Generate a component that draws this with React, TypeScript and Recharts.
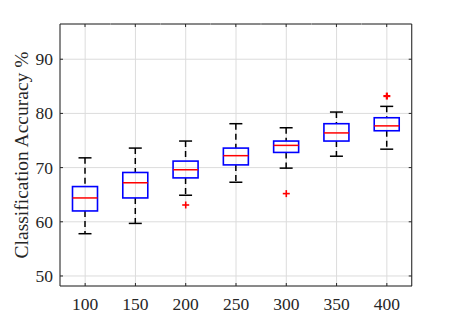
import React from 'react';
import { ComposedChart, Bar, Line, XAxis, YAxis, CartesianGrid } from 'recharts';

const categories = ['100', '150', '200', '250', '300', '350', '400'];
const lowerWhisker = [57.8, 59.7, 64.9, 67.3, 69.9, 72.1, 73.4];
const q1 = [62.0, 64.4, 68.1, 70.5, 72.8, 74.9, 76.8];
const median = [64.4, 67.2, 69.6, 72.2, 74.1, 76.4, 77.7];
const q3 = [66.5, 69.1, 71.2, 73.6, 74.9, 78.1, 79.2];
const upperWhisker = [71.8, 73.6, 74.9, 78.1, 77.35, 80.25, 81.3];
const outliers: (number | null)[] = [null, null, 63.1, null, 65.2, null, 83.2];
const yTicks = [50, 60, 70, 80, 90];
const yDomain = [48.15, 96.5];

const data = categories.map((c, i) => ({
  n: c,
  range: [lowerWhisker[i], upperWhisker[i]],
  lo: lowerWhisker[i],
  q1: q1[i],
  med: median[i],
  q3: q3[i],
  hi: upperWhisker[i],
  outlier: outliers[i],
}));

const FONT = '"Liberation Serif", "Times New Roman", serif';
const TXT = '#262626';

// Band background: draws the top frame segment + top tick for each category,
// and the right frame + right ticks for the last category.
const BandFrame = (props: any) => {
  const { x, y, width, height, index } = props;
  if (x == null || y == null || width == null || height == null) return <g />;
  const cx = x + width / 2;
  const right = x + width;
  const yOf = (v: number) => y + ((yDomain[1] - v) / (yDomain[1] - yDomain[0])) * height;
  const isLast = index === categories.length - 1;
  return (
    <g>
      <line x1={x} x2={right} y1={y} y2={y} stroke={TXT} strokeWidth={1} />
      <line x1={cx} x2={cx} y1={y} y2={y + 3} stroke={TXT} strokeWidth={1} />
      {isLast && <line x1={right} x2={right} y1={y} y2={y + height} stroke={TXT} strokeWidth={1} />}
      {isLast &&
        yTicks.map((t) => (
          <line key={`rt${t}`} x1={right - 3} x2={right} y1={yOf(t)} y2={yOf(t)} stroke={TXT} strokeWidth={1} />
        ))}
    </g>
  );
};

const BoxShape = (props: any) => {
  const { x, y, width, height, payload } = props;
  if (!payload) return <g />;
  const { lo, q1: a, med, q3: b, hi } = payload;
  const toY = (v: number) => y + ((hi - v) / (hi - lo)) * height;
  const cx = x + width / 2;
  const boxW = width * 0.5;
  const capW = width * 0.26;
  return (
    <g>
      <line x1={cx} x2={cx} y1={toY(hi)} y2={toY(b)} stroke="#000" strokeWidth={1.5} strokeDasharray="6 4" />
      <line x1={cx} x2={cx} y1={toY(a)} y2={toY(lo)} stroke="#000" strokeWidth={1.5} strokeDasharray="6 4" />
      <line x1={cx - capW / 2} x2={cx + capW / 2} y1={toY(hi)} y2={toY(hi)} stroke="#000" strokeWidth={1.5} />
      <line x1={cx - capW / 2} x2={cx + capW / 2} y1={toY(lo)} y2={toY(lo)} stroke="#000" strokeWidth={1.5} />
      <rect x={cx - boxW / 2} y={toY(b)} width={boxW} height={toY(a) - toY(b)} fill="none" stroke="#0000ff" strokeWidth={1.6} />
      <line x1={cx - boxW / 2} x2={cx + boxW / 2} y1={toY(med)} y2={toY(med)} stroke="#ff0000" strokeWidth={1.5} />
    </g>
  );
};

const PlusDot = (props: any) => {
  const { cx, cy, value, index } = props;
  if (value == null || cx == null || cy == null) return <g key={`o${index}`} />;
  const s = 3.5;
  const w = index === categories.length - 1 ? 2.2 : 1.6;
  return (
    <g key={`o${index}`}>
      <line x1={cx - s} x2={cx + s} y1={cy} y2={cy} stroke="#ff0000" strokeWidth={w} />
      <line x1={cx} x2={cx} y1={cy - s} y2={cy + s} stroke="#ff0000" strokeWidth={w} />
    </g>
  );
};

const XTick = (props: any) => {
  const { x, payload } = props;
  return (
    <text x={x} y={310} textAnchor="middle" fontFamily={FONT} fontSize={17.5} fill={TXT}>
      {payload.value}
    </text>
  );
};

const YTick = (props: any) => {
  const { y, payload } = props;
  return (
    <text x={53} y={y} textAnchor="end" dominantBaseline="central" fontFamily={FONT} fontSize={17.5} fill={TXT}>
      {payload.value}
    </text>
  );
};

const YLabel = (props: any) => {
  const vb = props.viewBox || { x: 0, y: 0, width: 60, height: 262 };
  const cx = vb.x + 21;
  const cy = vb.y + vb.height / 2;
  return (
    <text x={cx} y={cy} transform={`rotate(-90 ${cx} ${cy})`} textAnchor="middle" dominantBaseline="central"
      fontFamily={FONT} fontSize={19.5} fill={TXT}>
      Classification Accuracy %
    </text>
  );
};

export default function App() {
  return (
    <div style={{ position: 'absolute', left: 0, top: 0, background: '#fff' }}>
      <ComposedChart width={456} height={322} data={data} margin={{ top: 24, right: 44, bottom: 6, left: 0 }} barCategoryGap={0}>
        <CartesianGrid stroke="#dcdcdc" strokeWidth={1} />
        <XAxis dataKey="n" type="category" height={30} tickSize={-3} tick={<XTick />}
          axisLine={{ stroke: TXT }} tickLine={{ stroke: TXT }} />
        <YAxis type="number" domain={yDomain} ticks={yTicks} allowDataOverflow width={60} tickSize={-3}
          tick={<YTick />} axisLine={{ stroke: TXT }} tickLine={{ stroke: TXT }} label={<YLabel />} />
        <Bar dataKey="range" shape={<BoxShape />} background={<BandFrame />} isAnimationActive={false} />
        <Line dataKey="outlier" stroke="none" dot={<PlusDot />} activeDot={false} isAnimationActive={false} legendType="none" />
      </ComposedChart>
    </div>
  );
}
